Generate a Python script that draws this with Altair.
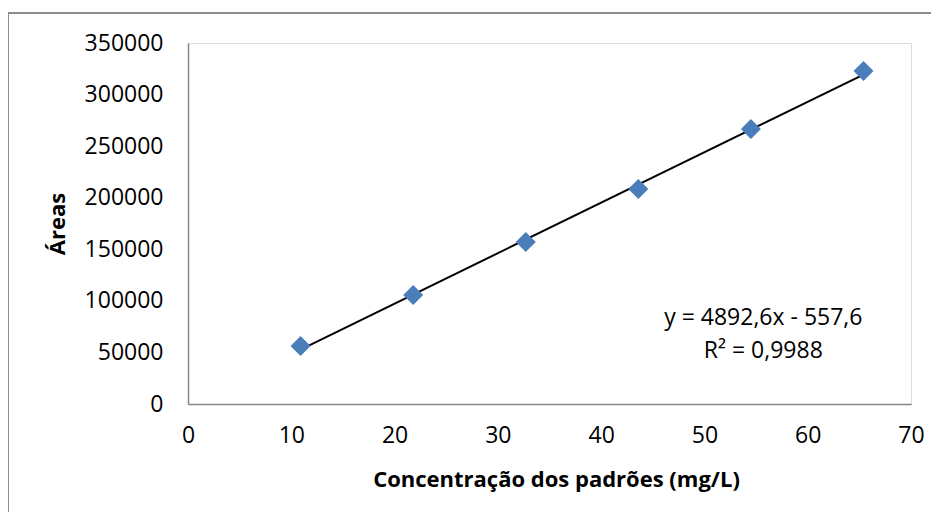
import altair as alt
import pandas as pd

# Data
conc = [10.9, 21.8, 32.7, 43.6, 54.5, 65.4]
areas = [56200, 105700, 157000, 208500, 266600, 322900]

# Trend line coefficients as shown on the chart
slope = 4892.6
intercept = -557.6

eq_text = ["y = 4892,6x - 557,6", "R² = 0,9988"]
eq_x = [55.7, 55.7]
eq_y = [83400, 51400]

y_ticks = [0, 50000, 100000, 150000, 200000, 250000, 300000, 350000]
x_ticks = [0, 10, 20, 30, 40, 50, 60, 70]

FONT = "Open Sans"

pts = pd.DataFrame({"x": conc, "y": areas})
trend = pd.DataFrame({
    "x": [min(conc), max(conc)],
    "y": [slope * min(conc) + intercept, slope * max(conc) + intercept],
})
eq = pd.DataFrame({"x": eq_x, "y": eq_y, "t": eq_text})

xs = alt.Scale(domain=[0, 70], nice=False, zero=True)
ys = alt.Scale(domain=[0, 350000], nice=False, zero=True)

x_axis = alt.Axis(
    values=x_ticks, title="Concentração dos padrões (mg/L)", grid=False,
    ticks=False, tickSize=0, labelPadding=20, labelFontSize=23, labelFont=FONT,
    labelColor="black", domainColor="#868686", domainWidth=1.5,
    titleFont=FONT, titleFontSize=22, titleFontWeight="bold", titleColor="black",
    titleX=368, titleY=75, titleAlign="center", titleBaseline="middle",
    labelFlush=False, labelOverlap=False,
)
y_axis = alt.Axis(
    values=y_ticks, title="Áreas", grid=False, format="d",
    ticks=False, tickSize=0, labelPadding=25, labelFontSize=23, labelFont=FONT,
    labelColor="black", domainColor="#868686", domainWidth=1.5,
    titleFont=FONT, titleFontSize=22, titleFontWeight="bold", titleColor="black",
    titleX=-131, titleY=180.5, titleAngle=270, titleAlign="center",
    titleBaseline="middle", labelFlush=False, labelOverlap=False,
)

border = alt.Chart(pd.DataFrame({"a": [0]})).mark_rect(
    fill=None, stroke="#8c8c8c", strokeWidth=2
).encode(
    x=alt.value(-180), x2=alt.value(800),
    y=alt.value(-30), y2=alt.value(540),
)

line = alt.Chart(trend).mark_line(color="black", strokeWidth=2).encode(
    x=alt.X("x:Q", scale=xs, axis=x_axis),
    y=alt.Y("y:Q", scale=ys, axis=y_axis),
)

points = alt.Chart(pts).mark_point(
    shape="diamond", filled=True, size=400, color="#4A7EBB", opacity=1
).encode(
    x=alt.X("x:Q", scale=xs),
    y=alt.Y("y:Q", scale=ys),
)

labels = alt.Chart(eq).mark_text(
    font=FONT, fontSize=23, color="black", align="center", baseline="middle"
).encode(
    x=alt.X("x:Q", scale=xs),
    y=alt.Y("y:Q", scale=ys),
    text="t:N",
)

chart = alt.layer(border, line, points, labels).properties(
    width=723, height=361,
    autosize=alt.AutoSizeParams(type="none"),
    padding={"left": 180, "top": 35, "right": 20, "bottom": 108},
).configure_view(stroke="transparent", strokeWidth=0).configure(background="white")

chart.save("out.html", embed_options={"renderer": "svg", "actions": False})
